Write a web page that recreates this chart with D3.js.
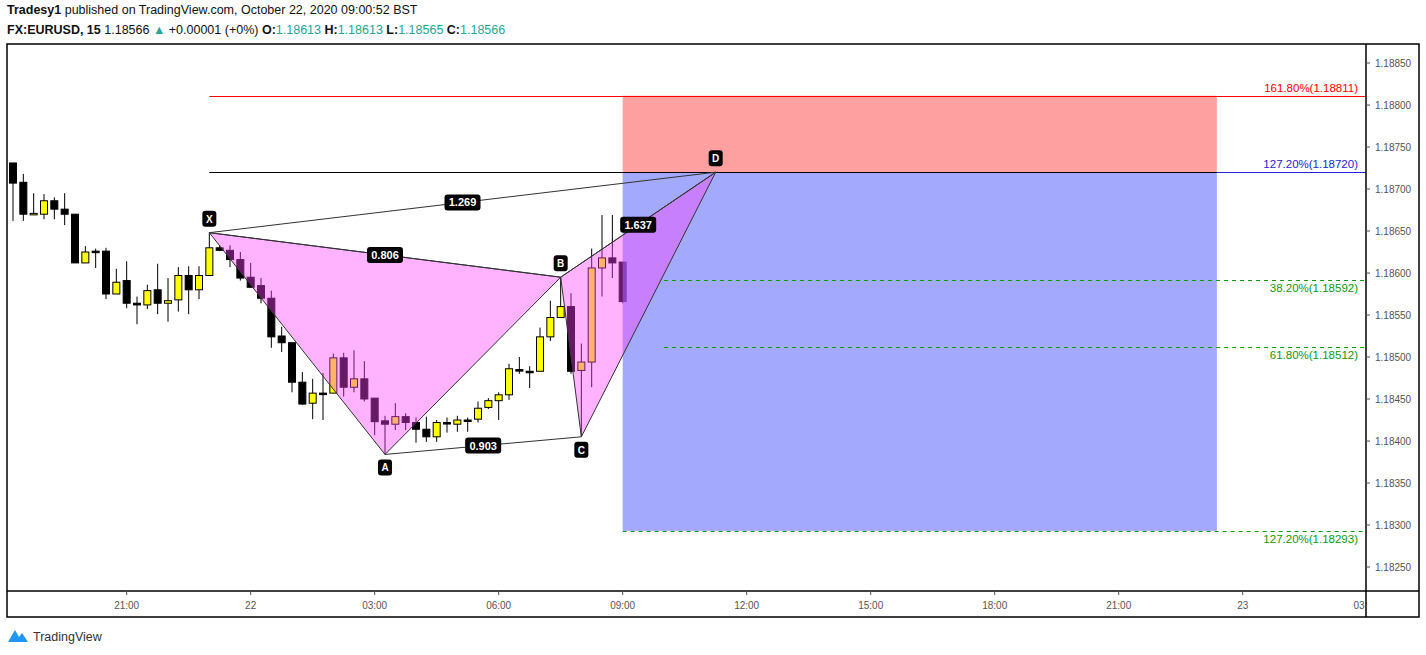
<!DOCTYPE html>
<html>
<head>
<meta charset="utf-8">
<script src="https://cdn.jsdelivr.net/npm/d3@7"></script>
<style>
  body { margin: 0; background: #fff; font-family: "Liberation Sans", "DejaVu Sans", sans-serif; }
  svg { display: block; }
</style>
</head>
<body>
<svg id="chart" width="1426" height="655"></svg>
<script>
// 15 min candles, 18:15 (21 Oct) .. 09:00 (22 Oct), prices in 1e-5 units
var opens  = [118731,118708,118670,118670,118686,118676,118670,118612,118626,118626,118575,118591,118564,118562,118580,118564,118568,118597,118580,118597,
              118630,118627,118616,118595,118585,118570,118525,118517,118470,118445,118457,118457,118499,118464,118474,118451,118424,118420,118429,118422,
              118414,118405,118422,118420,118425,118426,118440,118448,118455,118485,118483,118483,118524,118547,118560,118484,118494,118606,118618,118613];
var highs  = [118731,118718,118695,118694,118690,118695,118670,118632,118629,118630,118605,118614,118572,118586,118611,118594,118607,118608,118608,118648,
              118633,118633,118625,118612,118594,118579,118536,118517,118482,118474,118481,118504,118505,118508,118495,118451,118430,118445,118433,118428,
              118429,118425,118428,118430,118428,118447,118451,118458,118492,118500,118489,118535,118567,118595,118576,118516,118629,118669,118669,118613];
var lows   = [118662,118662,118669,118664,118664,118657,118612,118612,118606,118569,118575,118558,118539,118557,118551,118542,118554,118551,118569,118597,
              118626,118607,118591,118583,118564,118511,118506,118458,118443,118426,118425,118457,118453,118458,118447,118407,118384,118413,118413,118398,
              118399,118399,118410,118411,118411,118422,118438,118425,118449,118480,118463,118483,118519,118547,118480,118405,118464,118572,118594,118564];
var closes = [118707,118670,118671,118686,118676,118670,118612,118625,118626,118575,118589,118564,118562,118579,118564,118567,118597,118580,118597,118630,
              118627,118616,118594,118583,118570,118524,118517,118470,118444,118457,118457,118499,118464,118474,118450,118423,118420,118429,118422,118414,
              118405,118422,118422,118425,118425,118439,118448,118455,118486,118485,118483,118524,118547,118560,118483,118494,118606,118618,118612,118566];

// pattern points: [bar index, price]
var patternNames = ["X", "A", "B", "C", "D"];
var patternIdx = [19, 36, 53, 55, 68];
var patternPrice = [1.18648, 1.18384, 1.18595, 1.18405, 1.18720];
var ratioLabels = ["0.806", "1.269", "0.903", "1.637"];

var priceTicks = [1.1885, 1.188, 1.1875, 1.187, 1.1865, 1.186, 1.1855, 1.185, 1.1845, 1.184, 1.1835, 1.183, 1.1825];
var timeTickIdx = [11, 23, 35, 47, 59, 71, 83, 95, 107, 119, 131];
var timeTickLabels = ["21:00", "22", "03:00", "06:00", "09:00", "12:00", "15:00", "18:00", "21:00", "23", "03"];

var fibLevels = [1.18811, 1.18720, 1.18592, 1.18512, 1.18293];
var fibLabels = ["161.80%(1.18811)", "127.20%(1.18720)", "38.20%(1.18592)", "61.80%(1.18512)", "127.20%(1.18293)"];
var fibColors = ["#ff0000", "#2222dd", "#119911", "#119911", "#119911"];

(function () {
var svg = d3.select("#chart");
var pLeft = 7, pRight = 1366, pTop = 44, pBottom = 591;

var x = d3.scaleLinear().domain([0, 131]).range([13, 1366.7]);
var y = d3.scaleLinear().domain([1.1825, 1.1885]).range([567, 63]);

var plot = svg.append("g");
plot.append("clipPath").attr("id", "clip").append("rect")
  .attr("x", pLeft).attr("y", pTop).attr("width", pRight - pLeft).attr("height", pBottom - pTop);
var g = plot.append("g").attr("clip-path", "url(#clip)");

// candles
var bars = d3.range(opens.length).map(function(i) {
  return { i: i, o: opens[i] / 1e5, h: highs[i] / 1e5, l: lows[i] / 1e5, c: closes[i] / 1e5 };
});
var cg = g.selectAll(".candle").data(bars).enter().append("g");
cg.append("line")
  .attr("x1", function(d) { return x(d.i); }).attr("x2", function(d) { return x(d.i); })
  .attr("y1", function(d) { return y(d.h); }).attr("y2", function(d) { return y(d.l); })
  .attr("stroke", "#000").attr("stroke-width", 1);
cg.append("rect")
  .attr("x", function(d) { return x(d.i) - 3.5; }).attr("width", 7)
  .attr("y", function(d) { return y(Math.max(d.o, d.c)); })
  .attr("height", function(d) { return Math.max(1.5, Math.abs(y(d.o) - y(d.c))); })
  .attr("fill", function(d) { return d.c > d.o ? "#ffff00" : "#000"; })
  .attr("stroke", "#000").attr("stroke-width", 1);

// target zones
var zoneStart = 59, zoneEnd = 116.5;
g.append("rect").attr("x", x(zoneStart)).attr("width", x(zoneEnd) - x(zoneStart))
  .attr("y", y(fibLevels[0])).attr("height", y(fibLevels[1]) - y(fibLevels[0]))
  .attr("fill", "rgb(255,97,97)").attr("opacity", 0.6);
g.append("rect").attr("x", x(zoneStart)).attr("width", x(zoneEnd) - x(zoneStart))
  .attr("y", y(fibLevels[1])).attr("height", y(fibLevels[4]) - y(fibLevels[1]))
  .attr("fill", "rgb(102,112,250)").attr("opacity", 0.6);

// fib lines
var fibStart = [19, 19, 63, 63, 59];
fibLevels.forEach(function(p, k) {
  g.append("line").attr("x1", x(fibStart[k])).attr("x2", pRight)
    .attr("y1", Math.round(y(p)) + 0.5).attr("y2", Math.round(y(p)) + 0.5)
    .attr("stroke", fibColors[k]).attr("stroke-width", 1)
    .attr("stroke-dasharray", k >= 2 ? "4,4" : null);
  g.append("text").attr("x", pRight - 8).attr("y", y(p) + (k < 2 ? -4 : 12))
    .attr("text-anchor", "end").attr("font-size", 11.5).attr("fill", fibColors[k]).text(fibLabels[k]);
});
// black part of the 127.2 line along the pattern
g.append("line").attr("x1", x(19)).attr("x2", x(zoneEnd)).attr("y1", Math.round(y(fibLevels[1])) + 0.5)
  .attr("y2", Math.round(y(fibLevels[1])) + 0.5).attr("stroke", "#000");

// harmonic pattern
var pts = patternIdx.map(function(d, k) { return [x(d), y(patternPrice[k])]; });
[[0, 1, 2], [2, 3, 4]].forEach(function(t) {
  g.append("path").attr("d", "M" + t.map(function(k) { return pts[k]; }).join("L") + "Z")
    .attr("fill", "rgb(255,64,255)").attr("fill-opacity", 0.4)
    .attr("stroke", "#333").attr("stroke-width", 1);
});
[[0, 2], [0, 4], [1, 3], [2, 4]].forEach(function(s, k) {
  g.append("line").attr("x1", pts[s[0]][0]).attr("y1", pts[s[0]][1])
    .attr("x2", pts[s[1]][0]).attr("y2", pts[s[1]][1]).attr("stroke", "#333");
  var mx = (pts[s[0]][0] + pts[s[1]][0]) / 2, my = (pts[s[0]][1] + pts[s[1]][1]) / 2;
  g.append("rect").attr("x", mx - 18).attr("y", my - 8).attr("width", 36).attr("height", 16)
    .attr("rx", 3).attr("fill", "#000");
  g.append("text").attr("x", mx).attr("y", my + 4).attr("text-anchor", "middle")
    .attr("font-size", 11).attr("font-weight", "bold").attr("fill", "#fff").text(ratioLabels[k]);
});
var above = [true, false, true, false, true];
pts.forEach(function(p, k) {
  var cy = above[k] ? p[1] - 14 : p[1] + 13;
  g.append("rect").attr("x", p[0] - 7).attr("y", cy - 8).attr("width", 14).attr("height", 16)
    .attr("rx", 3).attr("fill", "#000");
  g.append("text").attr("x", p[0]).attr("y", cy + 4).attr("text-anchor", "middle")
    .attr("font-size", 10).attr("font-weight", "bold").attr("fill", "#fff").text(patternNames[k]);
});

// frame
svg.append("rect").attr("x", pLeft).attr("y", pTop).attr("width", 1419 - pLeft).attr("height", 617 - pTop)
  .attr("fill", "none").attr("stroke", "#000").attr("stroke-width", 1.5);
svg.append("line").attr("x1", pRight).attr("x2", pRight).attr("y1", pTop).attr("y2", 617).attr("stroke", "#000").attr("stroke-width", 1.5);
svg.append("line").attr("x1", pLeft).attr("x2", 1419).attr("y1", pBottom).attr("y2", pBottom).attr("stroke", "#000").attr("stroke-width", 1.5);

// price axis
priceTicks.forEach(function(p) {
  svg.append("line").attr("x1", pRight).attr("x2", pRight + 4).attr("y1", y(p)).attr("y2", y(p)).attr("stroke", "#555");
  svg.append("text").attr("x", pRight + 9).attr("y", y(p) + 4).attr("font-size", 10).attr("fill", "#555")
    .text(p.toFixed(5));
});
// time axis
timeTickIdx.forEach(function(t, k) {
  var tx = x(t);
  if (tx < pRight) svg.append("line").attr("x1", tx).attr("x2", tx).attr("y1", pBottom).attr("y2", pBottom + 4).attr("stroke", "#555");
  svg.append("text").attr("x", Math.min(tx, pRight - 7)).attr("y", pBottom + 18).attr("text-anchor", "middle")
    .attr("font-size", 10).attr("fill", "#555").text(timeTickLabels[k]);
});

// header
var h1 = svg.append("text").attr("x", 7).attr("y", 14).attr("font-size", 12.5).attr("fill", "#111");
h1.append("tspan").attr("font-weight", "bold").text("Tradesy1");
h1.append("tspan").text(" published on TradingView.com, October 22, 2020 09:00:52 BST");
var h2 = svg.append("text").attr("x", 7).attr("y", 34).attr("font-size", 12.5).attr("fill", "#111");
h2.append("tspan").attr("font-weight", "bold").text("FX:EURUSD, 15");
h2.append("tspan").text(" 1.18566 ");
h2.append("tspan").attr("fill", "#26a69a").text("▲");
h2.append("tspan").text(" +0.00001 (+0%) ");
[["O:", "1.18613"], ["H:", "1.18613"], ["L:", "1.18565"], ["C:", "1.18566"]].forEach(function(v) {
  h2.append("tspan").attr("font-weight", "bold").text(v[0]);
  h2.append("tspan").attr("fill", "#26a69a").text(v[1] + " ");
});

// footer logo
svg.append("path").attr("d", "M8,642 L15,630 L19,637 L22,633 L28,642 Z").attr("fill", "#2196f3");
svg.append("text").attr("x", 33).attr("y", 641).attr("font-size", 12.5).attr("fill", "#333").text("TradingView");
})();
</script>
</body>
</html>
